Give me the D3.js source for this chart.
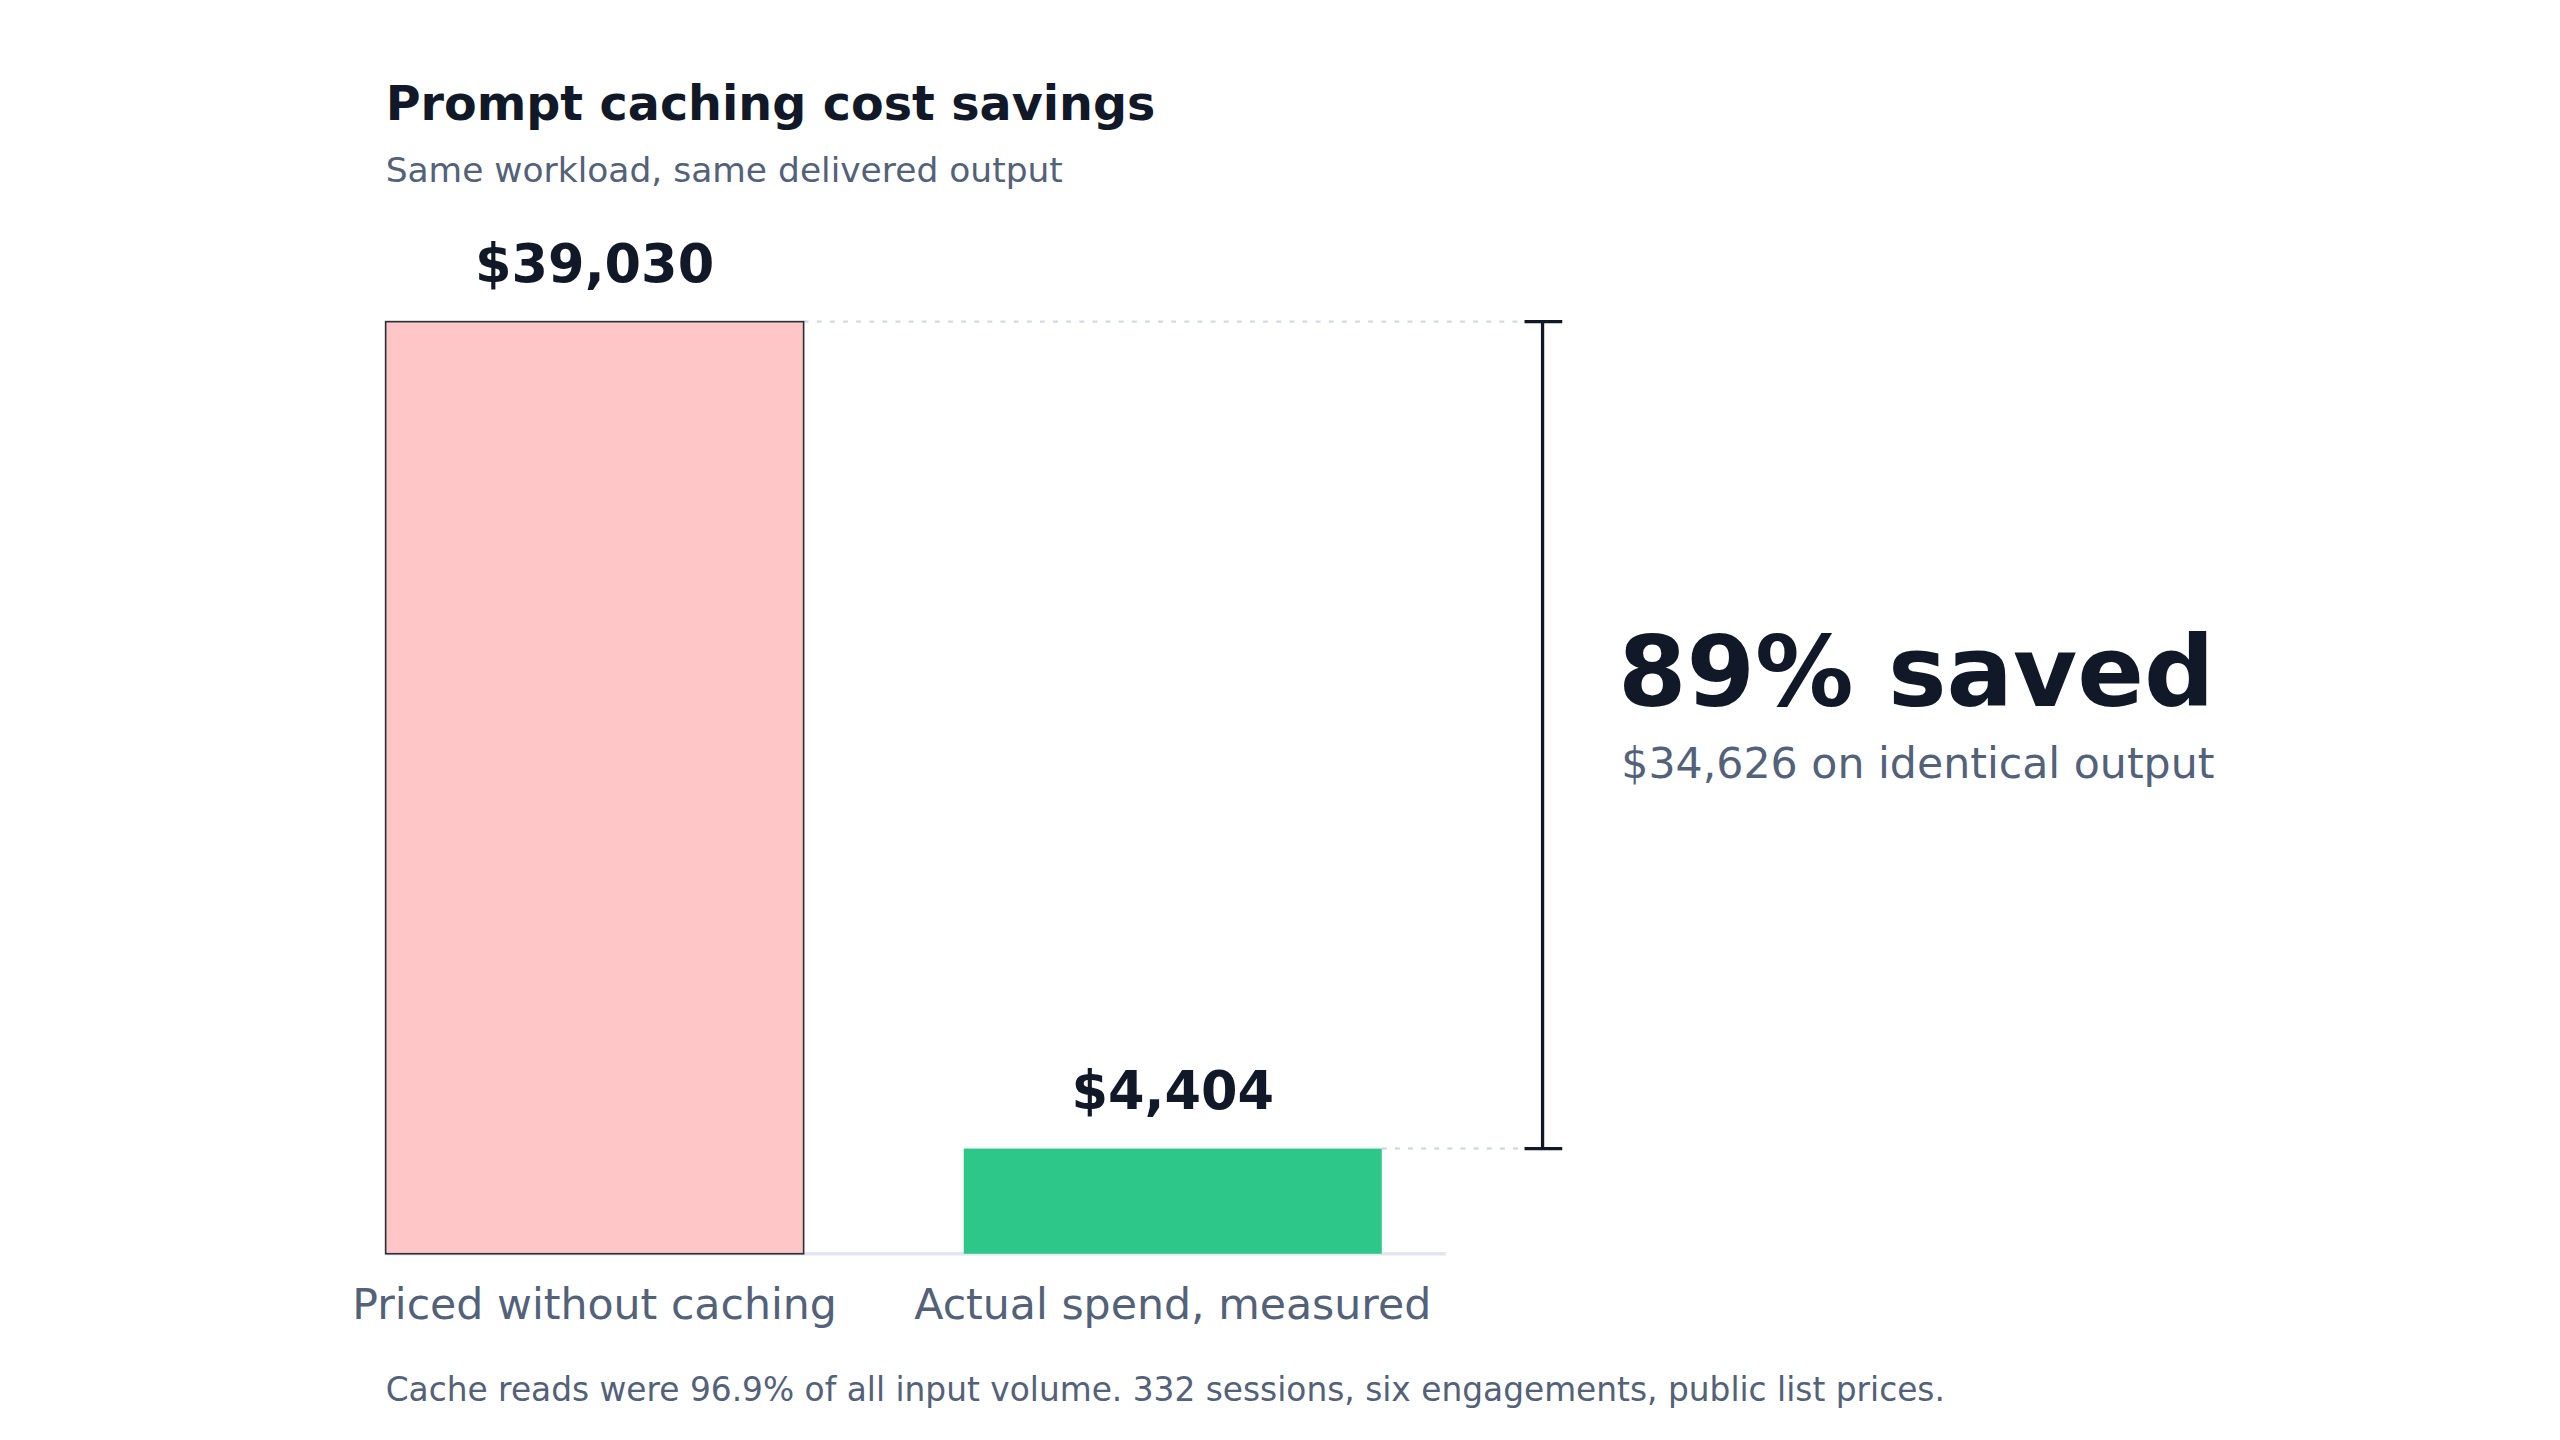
<!DOCTYPE html>
<html><head><meta charset="utf-8">
<script src="https://cdn.jsdelivr.net/npm/d3@7"></script>
<style>html,body{margin:0;background:#fff}svg{display:block}text{font-family:"DejaVu Sans",sans-serif}</style>
</head><body>
<script>
const categories = ["Priced without caching", "Actual spend, measured"];
const values = [39030, 4404];
const valueLabels = ["$39,030", "$4,404"];
const colors = ["#fec6c6", "#2dc78a"];
const title = "Prompt caching cost savings";
const subtitle = "Same workload, same delivered output";
const bigLabel = "89% saved";
const bigSub = "$34,626 on identical output";
const footnote = "Cache reads were 96.9% of all input volume. 332 sessions, six engagements, public list prices.";

const svg = d3.select("body").append("svg")
  .attr("width", 2560).attr("height", 1440).attr("viewBox", "0 0 1560 877.5");
const x = d3.scaleBand().domain(categories).range([235, 842]).paddingInner(0.277).paddingOuter(0);
const y = d3.scaleLinear().domain([0, 39030]).range([764, 196]);
const dark = "#111827", grey = "#536179";

svg.append("text").attr("x",235).attr("y",73).attr("font-size",29).attr("font-weight","bold").attr("fill",dark).text(title);
svg.append("text").attr("x",235).attr("y",111).attr("font-size",21).attr("fill",grey).text(subtitle);

svg.append("line").attr("x1",235).attr("x2",881).attr("y1",y(0)).attr("y2",y(0)).attr("stroke","#e2e6ee").attr("stroke-width",2);

// dotted guides
values.forEach((v,i)=>{
  svg.append("line").attr("x1",x(categories[i])+x.bandwidth()).attr("x2",930)
    .attr("y1",y(v)).attr("y2",y(v)).attr("stroke","#d5d9e0").attr("stroke-width",1.5).attr("stroke-dasharray","3,5");
});

svg.selectAll("rect.bar").data(values).join("rect").attr("class","bar")
  .attr("x",(d,i)=>x(categories[i])).attr("width",x.bandwidth())
  .attr("y",d=>y(d)).attr("height",d=>y(0)-y(d))
  .attr("fill",(d,i)=>colors[i])
  .attr("stroke",(d,i)=>i===0?"#2a2f3a":"none").attr("stroke-width",1);

svg.selectAll("text.val").data(values).join("text").attr("class","val")
  .attr("x",(d,i)=>x(categories[i])+x.bandwidth()/2).attr("y",d=>y(d)-24)
  .attr("text-anchor","middle").attr("font-size",32).attr("font-weight","bold").attr("fill",dark)
  .text((d,i)=>valueLabels[i]);

svg.selectAll("text.cat").data(categories).join("text").attr("class","cat")
  .attr("x",d=>x(d)+x.bandwidth()/2).attr("y",804)
  .attr("text-anchor","middle").attr("font-size",26).attr("fill",grey).text(d=>d);

// bracket
const bx = 940;
svg.append("line").attr("x1",bx).attr("x2",bx).attr("y1",y(values[0])).attr("y2",y(values[1])).attr("stroke",dark).attr("stroke-width",2);
[values[0], values[1]].forEach(v=>{
  svg.append("line").attr("x1",bx-11).attr("x2",bx+12).attr("y1",y(v)).attr("y2",y(v)).attr("stroke",dark).attr("stroke-width",2);
});

svg.append("text").attr("x",986).attr("y",430).attr("font-size",60).attr("font-weight","bold").attr("fill",dark).text(bigLabel);
svg.append("text").attr("x",988).attr("y",474).attr("font-size",26).attr("fill",grey).text(bigSub);

svg.append("text").attr("x",235).attr("y",854).attr("font-size",20).attr("fill",grey).text(footnote);
</script>
</body></html>
